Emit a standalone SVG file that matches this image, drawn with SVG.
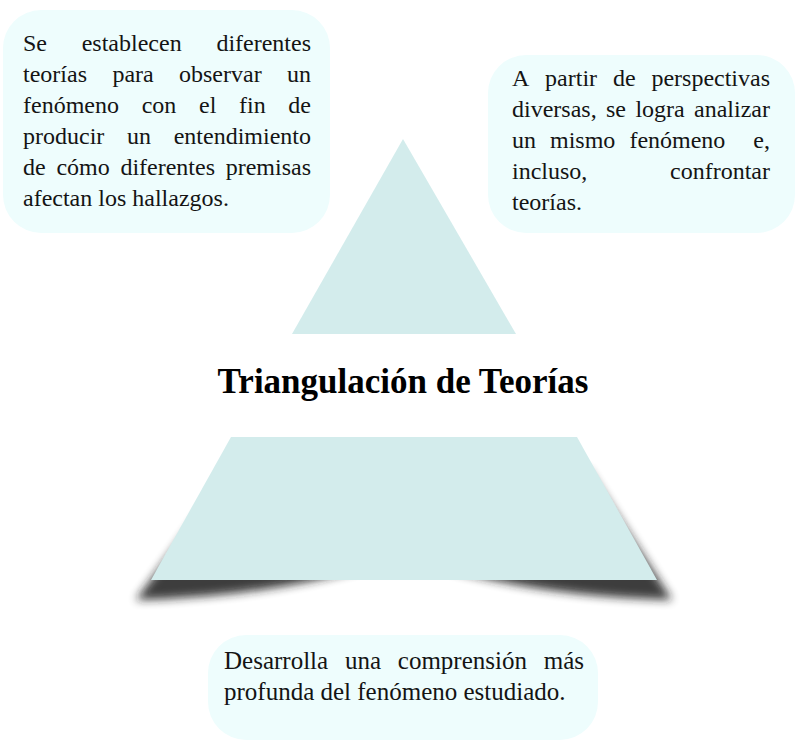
<svg xmlns="http://www.w3.org/2000/svg" width="796" height="745" viewBox="0 0 796 745">
  <defs>
    <style>
      .box { fill: #EEFDFD; }
      .shape { fill: #D3ECEC; }
      .t { font-family: "Liberation Serif", "Times New Roman", serif; font-size: 24px; fill: #141414; }
      .t25 { font-family: "Liberation Serif", "Times New Roman", serif; font-size: 25px; fill: #141414; }
      .title { font-family: "Liberation Serif", "Times New Roman", serif; font-size: 35px; font-weight: bold; fill: #000; }
    </style>
    <filter id="blur" x="-10%" y="-20%" width="120%" height="150%">
      <feGaussianBlur stdDeviation="5"/>
    </filter>
  </defs>
  <rect width="796" height="745" fill="#FFFFFF"/>

  <g id="triangle">
    <polygon class="shape" points="403,139 516,334 292,334"/>
  </g>

  <g id="trapezoid">
    <path d="M 232,470 L 588,470 L 672,600 Q 520,596 404,556 Q 288,596 136,600 Z" fill="#1A1A1A" opacity="0.85" filter="url(#blur)"/>
    <polygon class="shape" points="231,437 577,437 657,580 151,580"/>
  </g>

  <g id="title">
    <text class="title" x="403" y="393" text-anchor="middle">Triangulación de Teorías</text>
  </g>

  <g id="box-top-left">
    <rect class="box" x="3" y="10" width="327" height="223" rx="38" ry="38"/>
    <text class="t">
      <tspan x="23" y="51">Se</tspan><tspan x="81.7" y="51">establecen</tspan><tspan x="216.4" y="51">diferentes</tspan>
      <tspan x="23" y="82">teorías</tspan><tspan x="112.4" y="82">para</tspan><tspan x="179" y="82">observar</tspan><tspan x="287" y="82">un</tspan>
      <tspan x="23" y="113">fenómeno</tspan><tspan x="141.7" y="113">con</tspan><tspan x="199" y="113">el</tspan><tspan x="239" y="113">fin</tspan><tspan x="288.3" y="113">de</tspan>
      <tspan x="23" y="144">producir</tspan><tspan x="127" y="144">un</tspan><tspan x="173.7" y="144">entendimiento</tspan>
      <tspan x="23" y="175">de</tspan><tspan x="56.4" y="175">cómo</tspan><tspan x="120.4" y="175">diferentes</tspan><tspan x="225.7" y="175">premisas</tspan>
      <tspan x="23" y="206">afectan los hallazgos.</tspan>
    </text>
  </g>

  <g id="box-top-right">
    <rect class="box" x="488" y="55" width="307" height="178" rx="38" ry="38"/>
    <text class="t">
      <tspan x="512" y="86">A</tspan><tspan x="545.1" y="86">partir</tspan><tspan x="612.9" y="86">de</tspan><tspan x="651.4" y="86">perspectivas</tspan>
      <tspan x="512" y="117">diversas,</tspan><tspan x="606" y="117">se</tspan><tspan x="635.4" y="117">logra</tspan><tspan x="694" y="117">analizar</tspan>
      <tspan x="512" y="148">un</tspan><tspan x="550" y="148">mismo</tspan><tspan x="629.4" y="148">fenómeno</tspan><tspan x="753.3" y="148">e,</tspan>
      <tspan x="512" y="179">incluso,</tspan><tspan x="670" y="179">confrontar</tspan>
      <tspan x="512" y="210">teorías.</tspan>
    </text>
  </g>

  <g id="box-bottom">
    <rect class="box" x="208" y="635" width="390" height="105" rx="38" ry="38"/>
    <text class="t25">
      <tspan x="224" y="669">Desarrolla</tspan><tspan x="344.9" y="669">una</tspan><tspan x="397.8" y="669">comprensión</tspan><tspan x="543.7" y="669">más</tspan>
      <tspan x="224" y="700">profunda del fenómeno estudiado.</tspan>
    </text>
  </g>

  <g id="connectors"/>
</svg>
